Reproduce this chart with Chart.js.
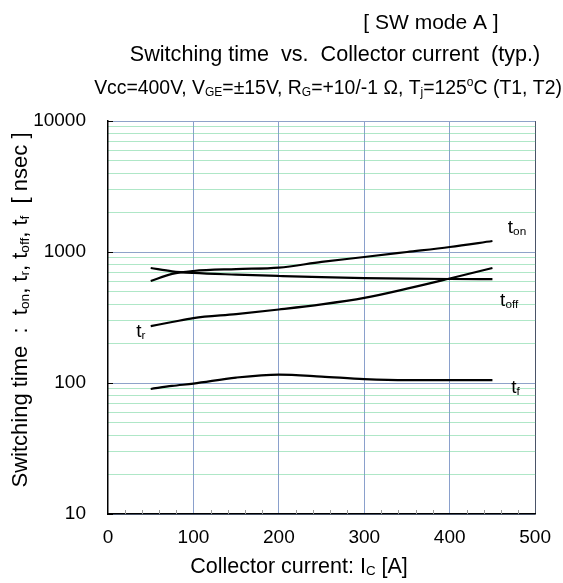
<!DOCTYPE html>
<html>
<head>
<meta charset="utf-8">
<script src="https://cdn.jsdelivr.net/npm/chart.js@4.4.1/dist/chart.umd.min.js"></script>
<style>
  html, body { margin: 0; padding: 0; background: #fff; }
  #wrap { width: 563px; height: 583px; }
</style>
</head>
<body>
<div id="wrap"><canvas id="chart" width="563" height="583"></canvas></div>
<script>
// collector current [A] and read-off switching times [nsec]
var current = [50, 75, 100, 150, 200, 250, 300, 350, 400, 450]
var tOn  = [600, 680, 716, 741, 760, 840, 916, 1000, 1092, 1213]
var tOff = [755, 712, 692, 672, 656, 642, 632, 626, 622, 620]
var tR   = [272, 292, 313, 336, 364, 398, 446, 525, 628, 755]
var tF   = [90, 95, 99, 110, 116, 112, 107, 105, 105, 105]

var xTicks = [0, 100, 200, 300, 400, 500]
var xMinor = [20, 40, 60, 80, 120, 140, 160, 180, 220, 240, 260, 280,
  320, 340, 360, 380, 420, 440, 460, 480]
var yDecades = [10, 100, 1000, 10000]
var yMantissa = [2, 3, 4, 5, 6, 7, 8, 9]

var FONT = "'Liberation Sans', Arial, sans-serif"

function isDecade (v) {
  return yDecades.indexOf(v) !== -1
}

// draw text made of plain / sub / sup pieces
function rich (ctx, parts, x, y, size, align) {
  var w = 0
  parts.forEach(function (p) {
    ctx.font = (p[1] ? size * 0.62 : size) + 'px ' + FONT
    w += ctx.measureText(p[0]).width
  })
  var cx = align === 'center' ? x - w / 2 : (align === 'right' ? x - w : x)
  ctx.textAlign = 'left'
  ctx.textBaseline = 'alphabetic'
  ctx.fillStyle = '#000'
  parts.forEach(function (p) {
    var s = p[1] ? size * 0.62 : size
    ctx.font = s + 'px ' + FONT
    var dy = 0
    if (p[1] === 'sub') dy = size * 0.1
    if (p[1] === 'sup') dy = -size * 0.42
    ctx.fillText(p[0], cx, y + dy)
    cx += ctx.measureText(p[0]).width
  })
}

var curveLabels = [
  { x: 468, y: 1397, parts: [['t'], ['on', 'sub']] },
  { x: 459, y: 387, parts: [['t'], ['off', 'sub']] },
  { x: 472, y: 84, parts: [['t'], ['f', 'sub']] },
  { x: 33, y: 224, parts: [['t'], ['r', 'sub']] }
]

var decor = {
  id: 'decor',
  afterDraw: function (chart) {
    var ctx = chart.ctx
    var xs = chart.scales.x
    var ys = chart.scales.y
    var area = chart.chartArea
    ctx.save()

    // minor ticks on the x axis, pointing into the plot
    ctx.strokeStyle = '#999'
    ctx.lineWidth = 1
    xMinor.forEach(function (v) {
      var px = Math.round(xs.getPixelForValue(v)) + 0.5
      ctx.beginPath()
      ctx.moveTo(px, area.bottom)
      ctx.lineTo(px, area.bottom - 4)
      ctx.stroke()
    })
    ctx.strokeStyle = '#000'
    yDecades.forEach(function (v) {
      var py = Math.round(ys.getPixelForValue(v)) + 0.5
      ctx.beginPath()
      ctx.moveTo(area.left, py)
      ctx.lineTo(area.left + 5, py)
      ctx.stroke()
    })

    // titles
    rich(ctx, [['[ SW mode A ]']], 431, 29, 21, 'center')
    rich(ctx, [['Switching time  vs.  Collector current  (typ.)']], 335, 61, 21.6, 'center')
    rich(ctx, [['Vcc=400V, V'], ['GE', 'sub'], ['=\u00b115V, R'], ['G', 'sub'],
      ['=+10/-1 \u03a9, T'], ['j', 'sub'], ['=125'], ['o', 'sup'], ['C (T1, T2)']],
    328, 94, 19.4, 'center')

    // axis titles
    rich(ctx, [['Collector current: I'], ['C', 'sub'], [' [A]']], 299, 573, 21.5, 'center')
    ctx.save()
    ctx.translate(19, 310)
    ctx.rotate(-Math.PI / 2)
    rich(ctx, [['Switching time  :  t'], ['on', 'sub'], [', t'], ['r', 'sub'], [', t'],
      ['off', 'sub'], [', t'], ['f', 'sub'], ['  [ nsec ]']], 0, 8, 22, 'center')
    ctx.restore()

    // curve names
    curveLabels.forEach(function (l) {
      rich(ctx, l.parts, xs.getPixelForValue(l.x), ys.getPixelForValue(l.y), 19, 'left')
    })
    ctx.restore()
  }
}

function series (values) {
  return current.map(function (c, i) { return { x: c, y: values[i] } })
}

function line (values) {
  return {
    data: series(values),
    borderColor: '#000',
    borderWidth: 2.2,
    pointRadius: 0,
    fill: false,
    cubicInterpolationMode: 'monotone'
  }
}

var ctx = document.getElementById('chart')

var chart = new Chart(ctx, {
  type: 'line',
  data: {
    datasets: [line(tOn), line(tOff), line(tR), line(tF)]
  },
  options: {
    responsive: false,
    animation: false,
    devicePixelRatio: 1,
    layout: { padding: { top: 121, right: 26, left: 0, bottom: 0 } },
    plugins: {
      legend: { display: false },
      tooltip: { enabled: false }
    },
    scales: {
      x: {
        type: 'linear',
        min: 0,
        max: 500,
        afterBuildTicks: function (s) {
          s.ticks = xTicks.map(function (v) { return { value: v } })
        },
        afterFit: function (s) { s.height = 69 },
        ticks: {
          color: '#000',
          font: { family: FONT, size: 19 },
          padding: 12,
          maxRotation: 0
        },
        grid: {
          drawTicks: false,
          lineWidth: 1,
          color: function (c) {
            if (!c.tick) return '#8aa0cc'
            if (c.tick.value === 0) return 'rgba(0,0,0,0)'
            if (c.tick.value === 500) return '#4a5468'
            return '#8aa0cc'
          }
        },
        border: { color: '#000', width: 1.5 }
      },
      y: {
        type: 'logarithmic',
        min: 10,
        max: 10000,
        afterBuildTicks: function (s) {
          var t = []
          yDecades.forEach(function (d) {
            t.push({ value: d })
            if (d < 10000) {
              yMantissa.forEach(function (m) { t.push({ value: d * m }) })
            }
          })
          s.ticks = t
        },
        afterFit: function (s) { s.width = 108 },
        ticks: {
          color: '#000',
          font: { family: FONT, size: 19 },
          padding: 22,
          autoSkip: false,
          callback: function (v) { return isDecade(v) ? String(v) : '' }
        },
        grid: {
          drawTicks: false,
          lineWidth: 1,
          color: function (c) {
            if (!c.tick) return '#8fa3c9'
            return isDecade(c.tick.value) ? '#8fa3c9' : '#5fcf8f'
          }
        },
        border: {
          color: '#000',
          width: 1.5,
          dash: function (c) {
            if (!c.tick) return []
            return isDecade(c.tick.value) ? [] : [1, 1]
          }
        }
      }
    }
  },
  plugins: [decor]
})
</script>
</body>
</html>
